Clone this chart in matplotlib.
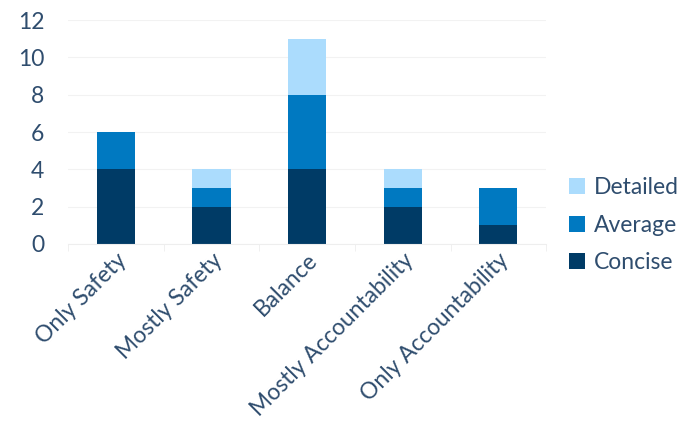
import matplotlib.pyplot as plt
import numpy as np

categories = ['Only Safety', 'Mostly Safety', 'Balance', 'Mostly Accountability', 'Only Accountability']
concise = [4, 2, 4, 2, 1]
average = [2, 1, 4, 1, 2]
detailed = [0, 1, 3, 1, 0]

txt = '#2f4d6e'
plt.rcParams['font.family'] = ['Lato', 'DejaVu Sans']

fig = plt.figure(figsize=(6.91, 4.38), dpi=100)
ax = fig.add_axes([0.0984, 0.443, 0.692, 0.511])

x = np.arange(len(categories))
c = np.array(concise)
a = np.array(average)
d = np.array(detailed)
w = 0.4
ax.bar(x, c, w, color='#003b66', label='Concise')
ax.bar(x, a, w, bottom=c, color='#0079c1', label='Average')
ax.bar(x, d, w, bottom=c + a, color='#abdcfd', label='Detailed')

ax.set_xlim(-0.5, len(categories) - 0.5)
ax.set_ylim(0, 12)
ax.set_yticks(range(0, 13, 2))
ax.yaxis.grid(True, color='#f2f2f2', linewidth=0.8)
ax.set_axisbelow(True)
for s in ['top', 'right', 'left']:
    ax.spines[s].set_visible(False)
ax.spines['bottom'].set_color('#eeeeee')
ax.tick_params(axis='y', length=0, labelsize=16.5, labelcolor=txt, pad=17)
ax.set_xticks(x)
ax.set_xticklabels(categories, rotation=45, ha='right', rotation_mode='anchor',
                   fontsize=16.5, color=txt)
ax.tick_params(axis='x', length=0, pad=4)
ax.set_xticks(np.arange(-0.5, len(categories)), minor=True)
ax.tick_params(axis='x', which='minor', length=5, color='#eeeeee')

h, l = ax.get_legend_handles_labels()
leg = fig.legend(h[::-1], l[::-1], loc='center left', bbox_to_anchor=(0.823, 0.486),
                 frameon=False, fontsize=16.5, handlelength=0.7, handleheight=0.7,
                 handletextpad=0.4, labelspacing=0.72, borderaxespad=0, borderpad=0)
for t in leg.get_texts():
    t.set_color(txt)

fig.savefig('out.png', dpi=100)
